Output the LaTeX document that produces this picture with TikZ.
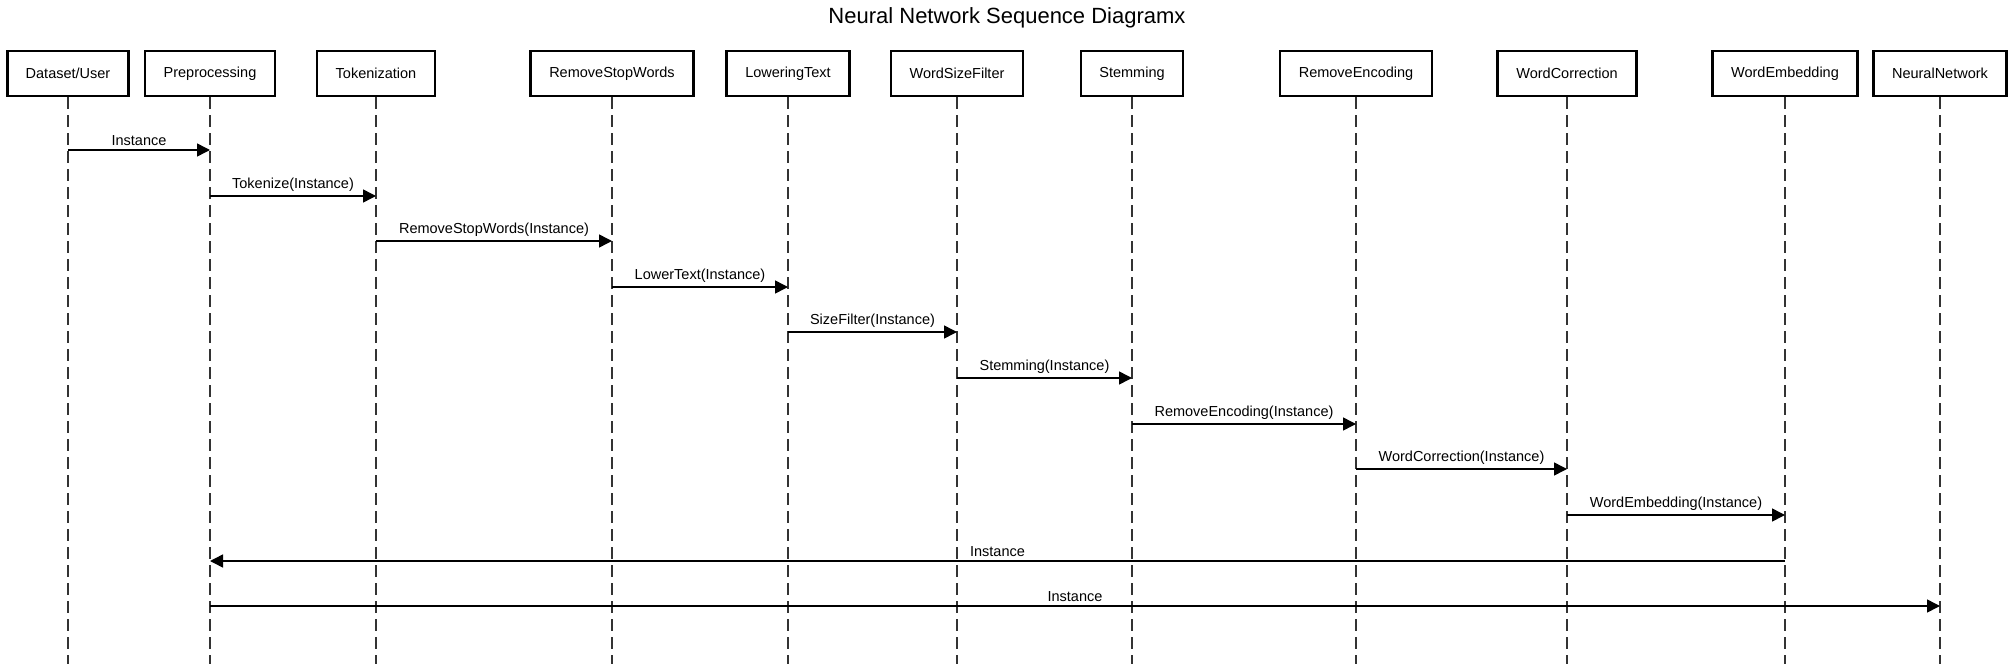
\documentclass[tikz,border=0pt]{standalone}
\usepackage{fontspec}
\setmainfont{Liberation Sans}
\usetikzlibrary{arrows.meta,positioning}

\begin{document}
\begin{tikzpicture}[
  x=0.5pt,
  y=-0.5pt,
  every node/.style={font=\fontsize{7.25}{8.7}\selectfont},
  actor/.style={
    draw,
    line width=1.25pt,
    minimum height=22.5pt,
    inner sep=0pt
  },
  lifeline/.style={draw=black!80, line width=0.9pt, dash pattern=on 6pt off 3pt},
  msg/.style={-{Triangle[length=6.5pt,width=6.5pt]}, line width=0.75pt},
  msglabel/.style={above, inner sep=2pt}
]
\useasboundingbox (0,0) rectangle (2014,664);

\node[font=\fontsize{11}{13}\selectfont] (title) at (1007,18) {Neural Network Sequence Diagramx};

% participants
\node[actor, minimum width=60.5pt] (dataset) at (68,73.5) {Dataset/User};
\node[actor, minimum width=65pt] (prep) at (210,73.5) {Preprocessing};
\node[actor, minimum width=59pt] (token) at (376,73.5) {Tokenization};
\node[actor, minimum width=81.5pt] (stopw) at (612,73.5) {RemoveStopWords};
\node[actor, minimum width=61.5pt] (lower) at (788,73.5) {LoweringText};
\node[actor, minimum width=66pt] (sizef) at (957,73.5) {WordSizeFilter};
\node[actor, minimum width=51pt] (stem) at (1132,73.5) {Stemming};
\node[actor, minimum width=76pt] (renc) at (1356,73.5) {RemoveEncoding};
\node[actor, minimum width=69.5pt] (wcorr) at (1567,73.5) {WordCorrection};
\node[actor, minimum width=72.5pt] (wemb) at (1785,73.5) {WordEmbedding};
\node[actor, minimum width=66.5pt] (nnet) at (1940,73.5) {NeuralNetwork};

\coordinate (bottom) at (0,664);
\foreach \p in {dataset,prep,token,stopw,lower,sizef,stem,renc,wcorr,wemb,nnet}
  \draw[lifeline] (\p.south) -- (\p.south |- bottom);

% message rows
\foreach \i/\yy in {1/150,2/196,3/241,4/287,5/332,6/378,7/424,8/469,9/515,10/561,11/606}
  \coordinate (r\i) at (0,\yy);

\draw[msg] (dataset |- r1) -- node[msglabel] {Instance} (prep |- r1);
\draw[msg] (prep |- r2) -- node[msglabel] {Tokenize(Instance)} (token |- r2);
\draw[msg] (token |- r3) -- node[msglabel] {RemoveStopWords(Instance)} (stopw |- r3);
\draw[msg] (stopw |- r4) -- node[msglabel] {LowerText(Instance)} (lower |- r4);
\draw[msg] (lower |- r5) -- node[msglabel] {SizeFilter(Instance)} (sizef |- r5);
\draw[msg] (sizef |- r6) -- node[msglabel] {Stemming(Instance)} (stem |- r6);
\draw[msg] (stem |- r7) -- node[msglabel] {RemoveEncoding(Instance)} (renc |- r7);
\draw[msg] (renc |- r8) -- node[msglabel] {WordCorrection(Instance)} (wcorr |- r8);
\draw[msg] (wcorr |- r9) -- node[msglabel] {WordEmbedding(Instance)} (wemb |- r9);
\draw[msg] (wemb |- r10) -- node[msglabel] {Instance} (prep |- r10);
\draw[msg] (prep |- r11) -- node[msglabel] {Instance} (nnet |- r11);
\end{tikzpicture}
\end{document}
